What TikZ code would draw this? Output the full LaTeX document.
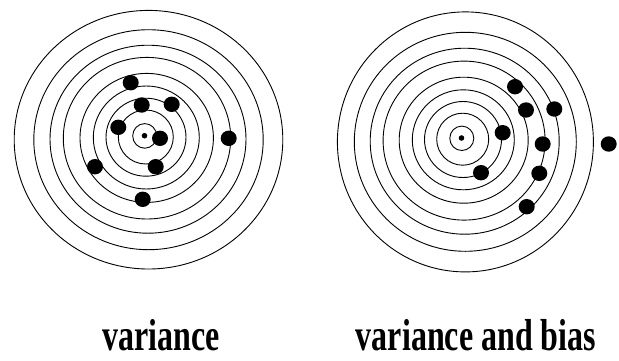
\documentclass[tikz,border=0pt]{standalone}
\usepackage{fontspec}
\setmainfont{Liberation Serif}
\begin{document}
\begin{tikzpicture}[x=1pt,y=-1pt,
  ring/.style={draw=black, line width=0.9pt},
  shot/.style={fill=black},
  bull/.style={fill=black},
  lbl/.style={font=\bfseries\fontsize{32}{36}\selectfont, anchor=base, inner sep=0pt, yscale=1.4}]
\useasboundingbox (0,0) rectangle (619,360);
% left target
\foreach \rx/\ry/\d in {12pt/12.3pt/0.2, 27.5pt/27pt/1.3, 40pt/39pt/1.5, 53pt/51.5pt/1.8, 66.7pt/64.5pt/2.2, 83.7pt/80.8pt/2.5, 98pt/94pt/3.5, 114.7pt/110pt/4, 134.3pt/129.3pt/4}
  \draw[ring] (144.5+\d,135.7+\d) ellipse [x radius=\rx, y radius=\ry];
\fill[bull] (144.5,135.7) circle [radius=2.8pt];
\foreach \x/\y in {130.7/82.7, 141.7/105, 171.7/104.3, 118.3/127.3, 160/138.3, 228.7/138.3, 95/166.7, 155.7/166.7, 142.7/199.3}
  \fill[shot] (\x,\y) ellipse [x radius=8pt, y radius=7.7pt];
% right target
\foreach \rx/\ry/\d in {12pt/12.2pt/0.3, 26pt/26pt/1.2, 38.5pt/38pt/1.5, 51pt/50pt/1.8, 64.5pt/63pt/2.2, 81pt/79.5pt/2.6, 94.5pt/93pt/3.2, 111pt/109.5pt/3.8, 128pt/130pt/3.9}
  \draw[ring] (461.5+\d,138+\d) ellipse [x radius=\rx, y radius=\ry];
\fill[bull] (461.5,138) circle [radius=2.8pt];
\foreach \x/\y in {515/86.7, 526/110, 554.3/109, 502.7/132.7, 542.7/144, 608.7/144, 481/172.7, 539.3/173.3, 526.7/206.7}
  \fill[shot] (\x,\y) ellipse [x radius=8pt, y radius=7.7pt];
% labels
\node[lbl] (lv) at (161,350) {variance};
\node[lbl] (lvb) at (476,350) {variance and bias};
\end{tikzpicture}
\end{document}
